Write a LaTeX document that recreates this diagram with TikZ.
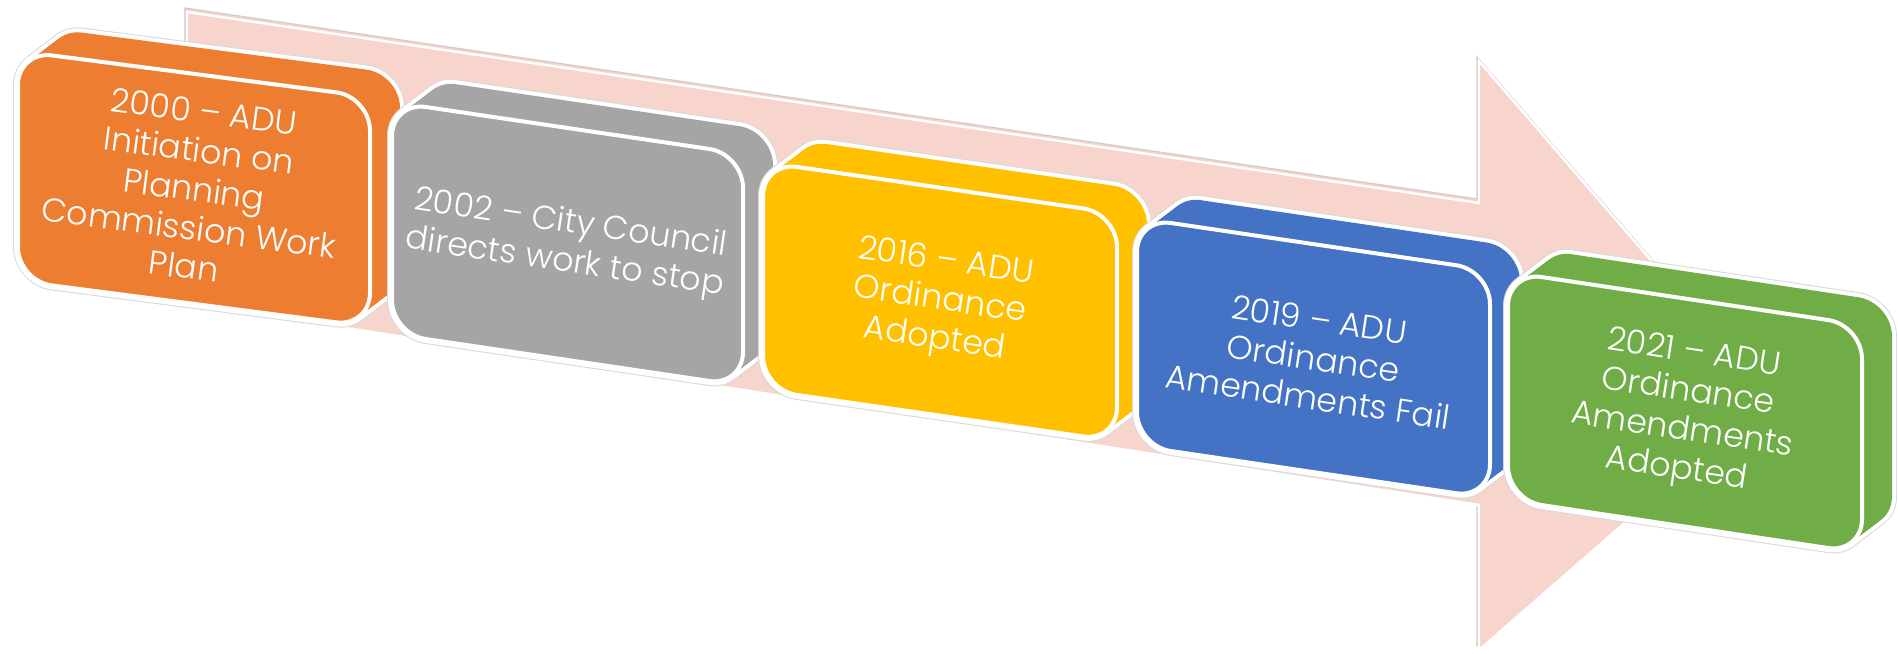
\documentclass[tikz,border=0pt]{standalone}
\usepackage{fontspec}
\newfontfamily\adufont[Ligatures=TeX]{Poppins Light}

\definecolor{aduorange}{HTML}{ED7D31}
\definecolor{adugray}{HTML}{A5A5A5}
\definecolor{aduyellow}{HTML}{FFC000}
\definecolor{adublue}{HTML}{4472C4}
\definecolor{adugreen}{HTML}{70AD47}
\definecolor{arrowpink}{HTML}{F8D5CC}

\tikzset{
  face/.style={rounded corners=17pt},
  rim/.style={face, draw=gray!30, line width=5pt},
  halo/.style={face, draw=white, line width=4pt},
  front/.style={face, draw=white, line width=2pt},
  steptext/.style={text=white, align=center, inner sep=0pt,
                   font=\adufont\fontsize{16.6}{19.5}\selectfont},
}

% #1 name, #2 x, #3 y, #4 width, #5 height, #6 slope, #7 colour, #8 text
\newcommand{\timebox}[8]{%
  \foreach \k in {0,...,12}
    \path[rim, shift={(\k*2.5,-\k*1.9)}]
      (#2,#3) -- ++(#4,{#4*#6}) -- ++(0,#5) -- ++(-#4,{-#4*#6}) -- cycle;
  \foreach \k in {0,...,12}
    \path[halo, shift={(\k*2.5,-\k*1.9)}]
      (#2,#3) -- ++(#4,{#4*#6}) -- ++(0,#5) -- ++(-#4,{-#4*#6}) -- cycle;
  \foreach \k in {0,...,12}
    \fill[face, #7, shift={(\k*2.5,-\k*1.9)}]
      (#2,#3) -- ++(#4,{#4*#6}) -- ++(0,#5) -- ++(-#4,{-#4*#6}) -- cycle;
  \path[front, fill=#7]
    (#2,#3) -- ++(#4,{#4*#6}) -- ++(0,#5) -- ++(-#4,{-#4*#6}) -- cycle;
  \node[steptext, rotate={-atan(#6)}] (#1)
    at ({#2+#4/2},{#3+#4*#6/2+#5/2}) {#8};
}

\begin{document}
\begin{tikzpicture}[x=0.5pt, y=-0.5pt]
  \useasboundingbox (0,0) rectangle (1898,653);

  % --- big arrow behind the steps ---
  \path[fill=arrowpink, draw=gray!40, line width=0.6pt, shift={(-2,-4)}]
    (187,12) -- (1479,203) -- (1479,61) -- (1769,397)
    -- (1479,650) -- (1479,505) -- (187,303) -- cycle;
  \path[fill=arrowpink, draw=white, line width=1.2pt]
    (187,12) -- (1479,203) -- (1479,61) -- (1769,397)
    -- (1479,650) -- (1479,505) -- (187,303) -- cycle;

  % --- the five steps ---
  \timebox{b2000}{18}{51}{352}{230}{0.13}{aduorange}
    {2000 -- ADU\\Initiation on\\Planning\\Commission Work\\Plan}
  \timebox{b2002}{392}{102}{351}{232}{0.148}{adugray}
    {2002 -- City Council\\directs work to stop}
  \timebox{b2016}{763}{162}{354}{228}{0.145}{aduyellow}
    {2016 -- ADU\\Ordinance\\Adopted}
  \timebox{b2019}{1137}{218}{353}{228}{0.148}{adublue}
    {2019 -- ADU\\Ordinance\\Amendments Fail}
  \timebox{b2021}{1508}{272}{354}{228}{0.15}{adugreen}
    {2021 -- ADU\\Ordinance\\Amendments\\Adopted}
\end{tikzpicture}
\end{document}
